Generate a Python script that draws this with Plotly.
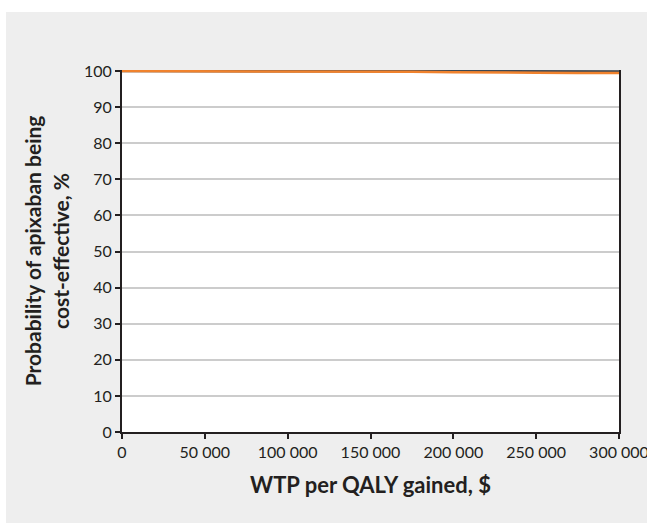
import plotly.graph_objects as go

wtp = [0, 25000, 50000, 75000, 100000, 125000, 150000, 175000, 200000, 225000, 250000, 275000, 300000]
prob_dark = [100, 100, 100, 100, 100, 100, 100, 100, 100, 99.95, 99.9, 99.9, 99.9]
prob_orange = [100, 100, 100, 100, 100, 99.95, 99.85, 99.8, 99.7, 99.55, 99.55, 99.5, 99.5]

x_ticks = [0, 50000, 100000, 150000, 200000, 250000, 300000]
y_ticks = list(range(0, 101, 10))

font_fam = "Lato, 'Noto Sans', sans-serif"
txt = "#231f20"

fig = go.Figure()
fig.add_trace(go.Scatter(x=wtp, y=prob_dark, mode="lines",
                         line=dict(color="#3d4752", width=2.5), showlegend=False))
fig.add_trace(go.Scatter(x=wtp, y=prob_orange, mode="lines",
                         line=dict(color="#f0822d", width=2.5), showlegend=False))

fig.update_layout(
    width=647, height=523,
    margin=dict(l=122, r=28, t=70, b=91),
    paper_bgcolor="#eeeeee",
    plot_bgcolor="white",
    separators=". ",
    font=dict(family=font_fam, color=txt, size=16),
    showlegend=False,
    shapes=[
        dict(type="rect", xref="paper", yref="paper", x0=-0.3, x1=1.2, y0=1.0 + 58/362, y1=1.3,
             fillcolor="white", line=dict(width=0), layer="above"),
        dict(type="rect", xref="paper", yref="paper", x0=-0.3, x1=-116/497, y0=-0.4, y1=1.3,
             fillcolor="white", line=dict(width=0), layer="above"),
    ],
)
fig.update_xaxes(
    range=[0, 300000], tickvals=x_ticks, tickformat=",d",
    showgrid=False, zeroline=False, automargin=False,
    showline=True, linecolor=txt, linewidth=2,
    ticks="outside", ticklen=5, tickcolor=txt, tickwidth=1.5,
    tickfont=dict(size=16, color=txt), ticklabeloverflow="allow",
    title=dict(text="<b>WTP per QALY gained, $</b>", font=dict(size=22, color=txt), standoff=17),
)
fig.update_yaxes(
    range=[0, 100.3], tickvals=y_ticks,
    showgrid=True, gridcolor="#cccccc", gridwidth=1.5, zeroline=False, automargin=False,
    showline=True, mirror=True, linecolor=txt, linewidth=2,
    ticks="outside", ticklen=5, tickcolor=txt, tickwidth=1.5,
    tickfont=dict(size=16, color=txt),
    title=dict(text="<b>Probability of apixaban being<br>cost-effective, %</b>",
               font=dict(size=21, color=txt), standoff=9),
)

fig.write_html("out.html", config={"displayModeBar": False},
               post_script="document.body.style.margin='0';document.body.style.overflow='hidden';")
